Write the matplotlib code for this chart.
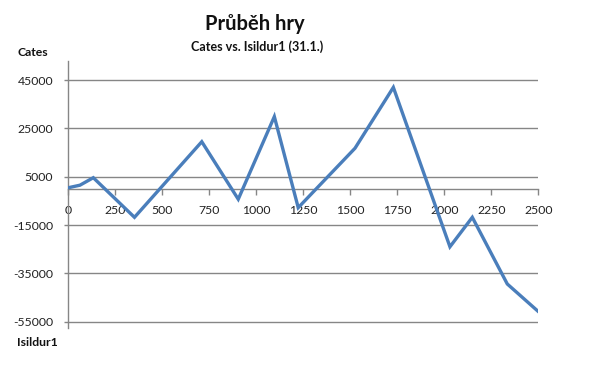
import matplotlib
matplotlib.use("Agg")
import matplotlib.pyplot as plt

hands = [0, 62, 133, 352, 710, 904, 1096, 1223, 1525, 1729, 2030, 2149, 2335, 2497]
cates = [450, 1500, 4600, -11800, 19500, -4300, 29900, -7800, 16800, 42000, -24000, -11800, -39400, -50600]

yticks = [45000, 25000, 5000, -15000, -35000, -55000]
xticks = [0, 250, 500, 750, 1000, 1250, 1500, 1750, 2000, 2250, 2500]

plt.rcParams['font.family'] = ['Lato', 'DejaVu Sans']

W, H = 592, 368
fig = plt.figure(figsize=(W / 100, H / 100), dpi=100)
fig.patch.set_facecolor('white')
left, right = 68.3 / W, 538.3 / W
top_px, bot_px = 60.8, 327.7
ax = fig.add_axes([left, 1 - bot_px / H, right - left, (bot_px - top_px) / H])

grid_c = '#868686'
for v in yticks:
    ax.axhline(v, color=grid_c, lw=1.0, zorder=1)

ax.plot(hands, cates, color='#4A7EBB', lw=2.4, solid_joinstyle='miter', zorder=3)

ax.set_xlim(0, 2500)
ax.set_ylim(-57500, 53000)
ax.set_yticks(yticks)
ax.set_yticklabels([str(v) for v in yticks])
ax.set_xticks(xticks)
ax.set_xticklabels([str(v) for v in xticks])

for s in ['top', 'right']:
    ax.spines[s].set_visible(False)
ax.spines['bottom'].set_position(('data', 0))
ax.spines['bottom'].set_color(grid_c)
ax.spines['left'].set_color(grid_c)
ax.spines['bottom'].set_linewidth(1.0)
ax.spines['left'].set_linewidth(1.0)

ax.tick_params(axis='x', direction='out', length=4, width=1, color=grid_c,
               pad=8, labelsize=8.8, labelcolor='#222222')
ax.tick_params(axis='y', direction='out', length=3, width=1, color=grid_c,
               pad=8, labelsize=8.8, labelcolor='#222222')

fig.text(255 / W, 1 - 24 / H, 'Průběh hry', ha='center', va='center',
         fontsize=14.5, fontweight='bold', color='#111111')
fig.text(257 / W, 1 - 47 / H, 'Cates vs. Isildur1 (31.1.)', ha='center', va='center',
         fontsize=9, fontweight='bold', color='#111111')
fig.text(17 / W, 1 - 53 / H, 'Cates', ha='left', va='center',
         fontsize=8.8, fontweight='bold', color='#111111')
fig.text(17 / W, 1 - 343 / H, 'Isildur1', ha='left', va='center',
         fontsize=8.8, fontweight='bold', color='#111111')

fig.savefig('out.png', dpi=100, facecolor='white')
